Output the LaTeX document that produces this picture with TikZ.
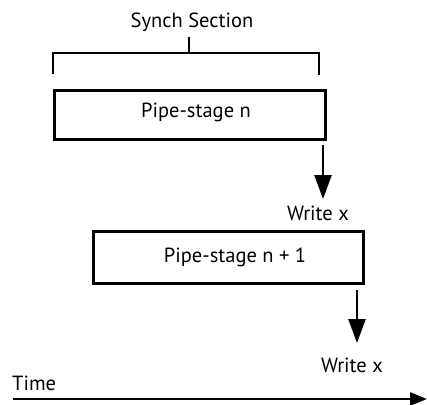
\documentclass[tikz,border=0pt]{standalone}
\usepackage{fontspec}
\setmainfont{PT Sans}
\usetikzlibrary{arrows.meta}
\begin{document}
\begin{tikzpicture}[x=1pt,y=-1pt,
  stage/.style={draw,line width=2.6pt,anchor=north west,inner sep=0pt},
  lbl/.style={font=\fontsize{20.5}{22}\selectfont,inner sep=0pt},
  rule/.style={line width=2.6pt},
  bigarrow/.style={line width=2.6pt,-{Triangle[length=24pt,width=17pt]}},
  timearrow/.style={line width=2.6pt,-{Triangle[length=17pt,width=13pt]}}]
\useasboundingbox (0,0) rectangle (427,404);
% synch section bracket
\node[lbl] (sync) at (192,22) {Synch Section};
\coordinate (stemtop) at (189,37);
\coordinate (stembot) at (189,53);
\coordinate (bl) at (53,74);
\coordinate (br) at (319,75);
\draw[rule] (stemtop) -- (stembot);
\draw[rule] (bl) |- (stembot) -| (br);
% pipe stages
\node[stage,minimum width=271pt,minimum height=49pt] (s1) at (53,89) {};
\node[lbl] (t1) at (196,112) {Pipe-stage n};
\node[stage,minimum width=270pt,minimum height=52pt] (s2) at (92,230) {};
\node[lbl] (t2) at (235,257) {Pipe-stage n + 1};
% write arrows
\coordinate (a1s) at (323,145);
\coordinate (a1e) at (323,199);
\draw[bigarrow] (a1s) -- (a1e);
\node[lbl] (w1) at (318,213) {Write x};
\coordinate (a2s) at (357,290);
\coordinate (a2e) at (357,343);
\draw[bigarrow] (a2s) -- (a2e);
\node[lbl] (w2) at (352,365) {Write x};
% time axis
\node[lbl,anchor=west] (time) at (12,383) {Time};
\coordinate (ts) at (13,399);
\coordinate (te) at (427,399);
\draw[timearrow] (ts) -- (te);
\end{tikzpicture}
\end{document}
